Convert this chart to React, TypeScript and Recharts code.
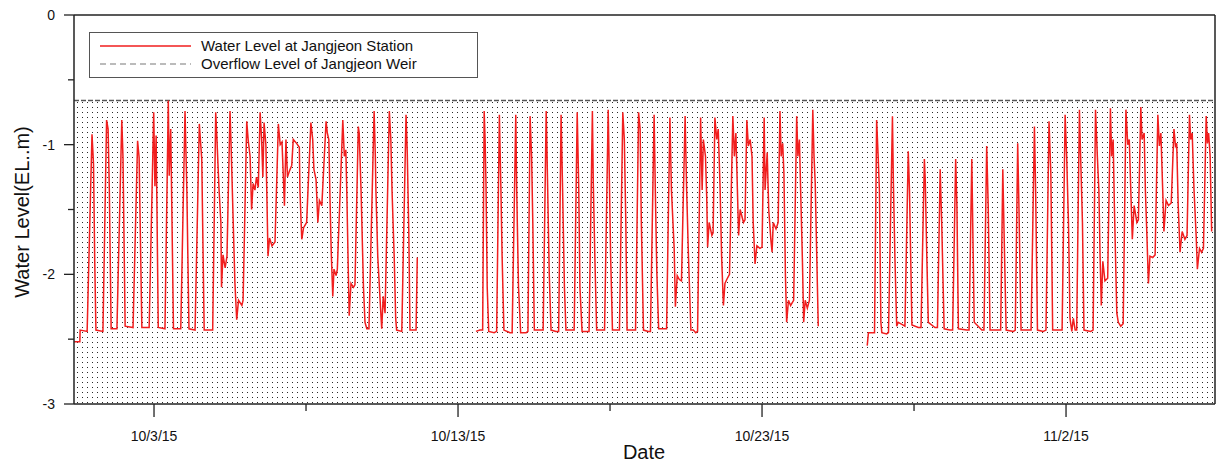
import React from "react";
import { ComposedChart, Line, XAxis, YAxis, ReferenceArea, ReferenceLine } from "recharts";

// time in days since 10/1/15 00:00, water level in EL.m
const segmentA: [number, number][] = [
  [-0.63, -2.52], [-0.44, -2.52], [-0.43, -2.43], [-0.2, -2.44],
  [-0.04, -0.92], [0.01, -1.15], [0.05, -1.9], [0.09, -2.43], [0.32, -2.44],
  [0.44, -0.81], [0.49, -0.88], [0.53, -1.35], [0.59, -2.42], [0.78, -2.42],
  [0.94, -0.81], [0.98, -1.1], [1.05, -2.4], [1.31, -2.41],
  [1.46, -0.97], [1.51, -1.1], [1.6, -2.41], [1.84, -2.41],
  [1.99, -0.75], [2.03, -1.32], [2.07, -0.93], [2.14, -2.41], [2.36, -2.42],
  [2.47, -0.66], [2.5, -1.24], [2.55, -0.88], [2.64, -2.42], [2.88, -2.42],
  [3.02, -0.74], [3.08, -1.35], [3.15, -2.42], [3.35, -2.43],
  [3.49, -0.84], [3.57, -1.11], [3.65, -2.43], [3.93, -2.43],
  [4.03, -0.75], [4.07, -0.96], [4.14, -1.35], [4.2, -1.6], [4.22, -2.1], [4.27, -1.85], [4.34, -1.95], [4.4, -1.86],
  [4.5, -0.74], [4.53, -0.96], [4.57, -1.3], [4.66, -2.06], [4.72, -2.35], [4.78, -2.2], [4.89, -2.24], [4.93, -2.2],
  [5.05, -0.82], [5.1, -0.97], [5.16, -1.09], [5.21, -1.5], [5.26, -1.3], [5.32, -1.35], [5.37, -1.25], [5.43, -1.33],
  [5.49, -0.75], [5.54, -0.96], [5.58, -1.25], [5.62, -0.83], [5.68, -1.0], [5.75, -1.86], [5.8, -1.72], [5.88, -1.78], [5.98, -1.75],
  [6.09, -0.84], [6.15, -1.0], [6.21, -0.98], [6.29, -1.47], [6.34, -0.96], [6.39, -1.25], [6.46, -1.2], [6.53, -1.16],
  [6.58, -0.96], [6.69, -0.99], [6.78, -1.02], [6.8, -1.35], [6.86, -1.73], [6.92, -1.64], [7.02, -1.6],
  [7.16, -0.83], [7.22, -0.96], [7.26, -1.19], [7.33, -1.27], [7.39, -1.6], [7.44, -1.43], [7.52, -1.47],
  [7.66, -0.82], [7.7, -0.91], [7.75, -0.96], [7.79, -1.43], [7.83, -1.83], [7.88, -2.17], [7.92, -1.96], [7.99, -2.01], [8.03, -1.96],
  [8.21, -0.81], [8.26, -1.09], [8.31, -1.04], [8.34, -1.35], [8.39, -1.96], [8.42, -2.32], [8.48, -2.07], [8.56, -2.1], [8.61, -2.08],
  [8.72, -0.86], [8.75, -0.91], [8.81, -1.35], [8.89, -2.1], [8.94, -2.37], [9.0, -2.42], [9.07, -2.42],
  [9.24, -0.74], [9.28, -1.09], [9.3, -1.36], [9.36, -1.86], [9.43, -2.17], [9.49, -2.42], [9.54, -2.17], [9.57, -2.24], [9.6, -2.3],
  [9.74, -0.74], [9.79, -0.96], [9.83, -1.36], [9.9, -1.86], [9.95, -2.34], [9.98, -2.43], [10.15, -2.44],
  [10.29, -0.77], [10.33, -1.06], [10.38, -1.66], [10.42, -2.43], [10.62, -2.43], [10.66, -1.87],
];

const segmentB: [number, number][] = [
  [12.59, -2.44], [12.72, -2.43], [12.81, -2.43],
  [12.86, -0.74], [12.89, -0.96], [12.92, -1.3], [12.96, -2.1], [13.01, -2.44], [13.19, -2.45], [13.27, -2.44],
  [13.36, -0.77], [13.41, -1.33], [13.45, -1.86], [13.51, -2.43], [13.71, -2.45], [13.78, -2.45],
  [13.9, -0.77], [13.93, -1.35], [13.99, -2.1], [14.06, -2.45], [14.24, -2.45], [14.3, -2.44],
  [14.37, -0.78], [14.42, -1.09], [14.46, -1.6], [14.51, -2.43], [14.7, -2.43], [14.8, -2.43],
  [14.9, -0.74], [14.95, -1.35], [15.0, -1.99], [15.06, -2.43], [15.22, -2.44], [15.31, -2.44],
  [15.39, -0.77], [15.44, -1.35], [15.5, -2.1], [15.55, -2.43], [15.74, -2.43], [15.82, -2.43],
  [15.92, -0.75], [15.97, -1.32], [16.01, -2.1], [16.08, -2.44], [16.23, -2.44], [16.31, -2.44],
  [16.42, -0.74], [16.45, -1.3], [16.5, -1.86], [16.56, -2.43], [16.76, -2.43], [16.82, -2.43],
  [16.94, -0.73], [16.98, -1.28], [17.02, -1.86], [17.08, -2.43], [17.24, -2.43], [17.31, -2.43],
  [17.42, -0.75], [17.47, -0.96], [17.52, -1.6], [17.56, -2.43], [17.77, -2.43], [17.84, -2.43],
  [17.94, -0.75], [17.99, -0.88], [18.03, -1.6], [18.1, -2.43], [18.26, -2.44], [18.33, -2.44],
  [18.45, -0.77], [18.49, -1.35], [18.54, -1.99], [18.6, -2.42], [18.78, -2.42], [18.86, -2.42],
  [18.97, -0.79], [19.02, -1.35], [19.11, -1.8], [19.15, -2.25], [19.21, -2.01], [19.28, -2.04], [19.35, -2.05],
  [19.47, -0.78], [19.52, -1.35], [19.58, -1.86], [19.66, -2.43], [19.74, -2.43], [19.82, -2.45], [19.88, -2.44],
  [19.98, -0.79], [20.03, -1.35], [20.07, -0.96], [20.14, -1.09], [20.18, -1.4], [20.21, -1.79], [20.26, -1.6], [20.35, -1.7], [20.39, -1.68],
  [20.45, -0.79], [20.51, -0.96], [20.56, -0.88], [20.62, -1.33], [20.67, -1.86], [20.73, -2.24], [20.78, -2.07], [20.84, -2.04], [20.93, -2.0],
  [21.04, -0.78], [21.09, -1.09], [21.14, -0.91], [21.19, -1.35], [21.23, -1.7], [21.28, -1.5], [21.39, -1.6], [21.44, -1.58],
  [21.5, -0.81], [21.55, -1.01], [21.61, -0.96], [21.67, -1.09], [21.71, -1.6], [21.77, -1.92], [21.83, -1.78], [21.93, -1.8], [22.0, -1.79],
  [22.07, -0.79], [22.1, -1.35], [22.17, -1.06], [22.22, -1.5], [22.29, -1.73], [22.33, -1.83], [22.37, -1.6], [22.46, -1.65], [22.53, -1.6],
  [22.59, -0.74], [22.63, -1.09], [22.68, -0.99], [22.72, -1.22], [22.77, -2.01], [22.81, -2.37], [22.87, -2.2], [22.94, -2.24], [23.04, -2.2],
  [23.14, -0.78], [23.18, -1.09], [23.23, -0.96], [23.27, -1.35], [23.33, -1.91], [23.37, -2.37], [23.42, -2.2], [23.49, -2.26], [23.56, -2.2],
  [23.67, -0.73], [23.71, -1.09], [23.75, -1.3], [23.8, -1.86], [23.85, -2.4],
];

const segmentC: [number, number][] = [
  [25.46, -2.55], [25.5, -2.45], [25.66, -2.45], [25.7, -2.45],
  [25.77, -0.81], [25.82, -1.09], [25.86, -1.35], [25.91, -2.37], [25.94, -2.45], [26.1, -2.46], [26.16, -2.45],
  [26.29, -0.78], [26.32, -1.28], [26.37, -1.86], [26.43, -2.4], [26.48, -2.37], [26.63, -2.39], [26.7, -2.4],
  [26.81, -1.05], [26.85, -1.35], [26.89, -1.86], [26.93, -2.39], [27.14, -2.41], [27.23, -2.41],
  [27.34, -1.11], [27.37, -1.28], [27.42, -1.86], [27.47, -2.37], [27.69, -2.41], [27.77, -2.41],
  [27.86, -1.19], [27.91, -1.6], [27.99, -2.42], [28.18, -2.43], [28.27, -2.43],
  [28.37, -1.11], [28.41, -1.47], [28.46, -2.42], [28.73, -2.43], [28.81, -2.43],
  [28.9, -1.11], [28.93, -1.6], [28.98, -2.37], [29.23, -2.43], [29.3, -2.43],
  [29.39, -1.01], [29.44, -1.47], [29.5, -2.43], [29.77, -2.43], [29.85, -2.43],
  [29.92, -1.19], [29.96, -1.66], [30.03, -2.43], [30.27, -2.44], [30.33, -2.43],
  [30.41, -0.99], [30.45, -1.47], [30.52, -2.43], [30.76, -2.43], [30.85, -2.43],
  [30.96, -0.86], [31.0, -1.35], [31.06, -2.43], [31.25, -2.44], [31.34, -2.43],
  [31.44, -0.82], [31.5, -1.22], [31.56, -2.43], [31.8, -2.43], [31.87, -2.43],
  [31.97, -0.77], [32.02, -1.09], [32.08, -1.6], [32.13, -2.34], [32.19, -2.44], [32.24, -2.34], [32.3, -2.43], [32.35, -2.43],
  [32.44, -0.73], [32.48, -1.09], [32.54, -1.6], [32.59, -2.43], [32.81, -2.44], [32.89, -2.43],
  [32.97, -0.73], [33.03, -1.09], [33.08, -1.35], [33.12, -1.86], [33.16, -2.24], [33.21, -1.9], [33.28, -2.05], [33.37, -2.03],
  [33.46, -0.72], [33.5, -1.09], [33.55, -0.96], [33.59, -1.47], [33.64, -1.99], [33.67, -2.3], [33.72, -2.37], [33.8, -2.4], [33.88, -2.38],
  [33.97, -0.73], [34.03, -1.0], [34.08, -0.96], [34.13, -1.35], [34.18, -1.73], [34.24, -1.47], [34.33, -1.6], [34.38, -1.58],
  [34.46, -0.71], [34.5, -0.96], [34.57, -0.91], [34.61, -1.35], [34.66, -1.7], [34.71, -2.07], [34.76, -1.86], [34.85, -1.87], [34.93, -1.85],
  [35.02, -0.77], [35.07, -1.01], [35.12, -0.91], [35.18, -1.35], [35.22, -1.67], [35.29, -1.43], [35.37, -1.47], [35.46, -1.45],
  [35.55, -0.88], [35.6, -1.01], [35.64, -0.99], [35.69, -1.47], [35.75, -1.83], [35.82, -1.67], [35.91, -1.73], [35.98, -1.7],
  [36.06, -0.77], [36.1, -0.96], [36.15, -0.91], [36.21, -1.35], [36.28, -1.7], [36.32, -1.96], [36.39, -1.8], [36.46, -1.83], [36.52, -1.8],
  [36.61, -0.78], [36.65, -0.99], [36.69, -0.91], [36.74, -1.09], [36.79, -1.67],
];

const overflowLevel = -0.66;
const dateTickDays = [2, 12, 22, 32];
const dateTickLabels = ["10/3/15", "10/13/15", "10/23/15", "11/2/15"];
const minorTickDays = [7, 17, 27];
const levelTicks = [-3, -2.5, -2, -1.5, -1, -0.5, 0];
const xDomain: [number, number] = [-0.632, 36.9];
const yDomain: [number, number] = [-3, 0];

const seriesName = "Water Level at Jangjeon Station";
const overflowName = "Overflow Level of Jangjeon Weir";

const FONT = "Arial, 'Liberation Sans', Helvetica, sans-serif";
const AXIS = "#222";
const RED = "#f01e1e";

const toRows = (seg: [number, number][]) => seg.map(([t, v]) => ({ t, v }));

const XTick = (props: any) => {
  const { x, y, payload } = props;
  const idx = dateTickDays.indexOf(payload.value);
  const major = idx >= 0;
  return (
    <g>
      <line x1={x} x2={x} y1={y} y2={y + (major ? 13 : 7)} stroke={AXIS} strokeWidth={1.3} />
      {major && (
        <text x={x} y={y + 37} textAnchor="middle" fontSize={14} fontFamily={FONT} fill="#111">
          {dateTickLabels[idx]}
        </text>
      )}
    </g>
  );
};

const YTick = (props: any) => {
  const { x, y, payload } = props;
  const major = Number.isInteger(payload.value);
  return (
    <g>
      <line x1={x - (major ? 10 : 6)} x2={x} y1={y} y2={y} stroke={AXIS} strokeWidth={1.3} />
      {major && (
        <text x={x - 19} y={y + 5} textAnchor="end" fontSize={14} fontFamily={FONT} fill="#111">
          {String(payload.value)}
        </text>
      )}
    </g>
  );
};

export default function App() {
  const allTicks = [...dateTickDays, ...minorTickDays].sort((a, b) => a - b);
  return (
    <div style={{ position: "absolute", left: 0, top: 0, width: 1220, height: 461, background: "#fff" }}>
      <svg width={0} height={0} style={{ position: "absolute" }}>
        <defs>
          <pattern id="dotFill" x={0} y={0} width={5} height={5} patternUnits="userSpaceOnUse">
            <rect x={2} y={2} width={1} height={1} fill="#2a2a2a" />
          </pattern>
        </defs>
      </svg>
      <ComposedChart width={1220} height={461} margin={{ top: 15, right: 5, bottom: 0, left: 0 }}>
        <XAxis
          type="number"
          dataKey="t"
          domain={xDomain}
          allowDataOverflow
          ticks={allTicks}
          interval={0}
          height={57}
          tickSize={0}
          tickMargin={0}
          tickLine={false}
          tick={<XTick />}
          axisLine={{ stroke: AXIS, strokeWidth: 1.5 }}
        />
        <YAxis
          type="number"
          domain={yDomain}
          allowDataOverflow
          ticks={levelTicks}
          interval={0}
          width={74}
          tickSize={0}
          tickMargin={0}
          tickLine={false}
          tick={<YTick />}
          axisLine={{ stroke: AXIS, strokeWidth: 1.5 }}
        />
        <ReferenceArea y1={-3} y2={overflowLevel} fill="url(#dotFill)" fillOpacity={1} stroke="none" ifOverflow="visible" />
        <ReferenceLine y={overflowLevel} stroke="#555" strokeWidth={1.5} strokeDasharray="5 2" />
        <ReferenceLine y={0} stroke={AXIS} strokeWidth={1.5} />
        <ReferenceLine x={xDomain[1]} stroke={AXIS} strokeWidth={1.5} />
        <Line data={toRows(segmentA)} dataKey="v" type="linear" stroke={RED} strokeWidth={1.5} dot={false} activeDot={false} isAnimationActive={false} name={seriesName} />
        <Line data={toRows(segmentB)} dataKey="v" type="linear" stroke={RED} strokeWidth={1.5} dot={false} activeDot={false} isAnimationActive={false} name={seriesName} />
        <Line data={toRows(segmentC)} dataKey="v" type="linear" stroke={RED} strokeWidth={1.5} dot={false} activeDot={false} isAnimationActive={false} name={seriesName} />
      </ComposedChart>
      <div
        style={{
          position: "absolute",
          left: 22,
          top: 212,
          transform: "translate(-50%, -50%) rotate(-90deg)",
          fontFamily: FONT,
          fontSize: 20,
          color: "#111",
          whiteSpace: "nowrap",
        }}
      >
        Water Level(EL..m)
      </div>
      <div
        style={{
          position: "absolute",
          left: 644,
          top: 452,
          transform: "translate(-50%, -50%)",
          fontFamily: FONT,
          fontSize: 20,
          color: "#111",
          whiteSpace: "nowrap",
        }}
      >
        Date
      </div>
      <div
        style={{
          position: "absolute",
          left: 89,
          top: 32,
          width: 387,
          height: 44,
          border: "1.3px solid #555",
          background: "#fff",
          fontFamily: FONT,
          fontSize: 15,
          color: "#111",
        }}
      >
        <svg width={110} height={44} style={{ position: "absolute", left: 0, top: 0 }}>
          <line x1={10} x2={101} y1={13} y2={13} stroke={RED} strokeWidth={1.3} />
          <line x1={10} x2={101} y1={31} y2={31} stroke="#bbb" strokeWidth={2} strokeDasharray="6 4" />
        </svg>
        <div style={{ position: "absolute", left: 111, top: 4, lineHeight: "18px", whiteSpace: "nowrap" }}>{seriesName}</div>
        <div style={{ position: "absolute", left: 111, top: 22, lineHeight: "18px", whiteSpace: "nowrap" }}>{overflowName}</div>
      </div>
    </div>
  );
}
